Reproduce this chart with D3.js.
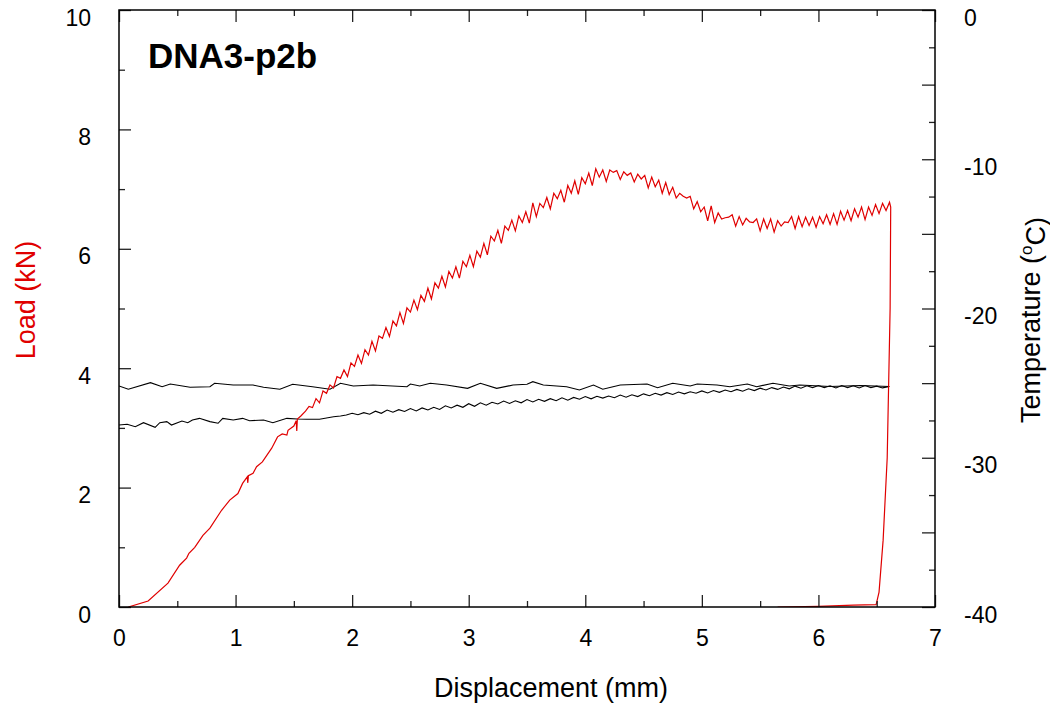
<!DOCTYPE html>
<html>
<head>
<meta charset="utf-8">
<script src="https://cdn.jsdelivr.net/npm/d3@7"></script>
<style>
  body { margin: 0; background: #fff; }
  svg text { font-family: "Liberation Sans", Arial, sans-serif; }
</style>
</head>
<body>
<div id="chart"></div>
<script>
// tick values
const xMajor = [0, 1, 2, 3, 4, 5, 6, 7];
const xMinor = [0.5, 1.5, 2.5, 3.5, 4.5, 5.5, 6.5];
const loadMajor = [0, 2, 4, 6, 8, 10];
const loadMinor = [1, 3, 5, 7, 9];
const tempMajor = [0, -5, -10, -15, -20, -25, -30, -35, -40];
const tempMinor = [-2.5, -7.5, -12.5, -17.5, -22.5, -27.5, -32.5, -37.5];

const title = "DNA3-p2b";

// load (kN) vs displacement (mm)
const loadCurve = [
  [0.08, 0], [0.25, 0.1], [0.42, 0.4], [0.52, 0.7], [0.58, 0.82], [0.60, 0.9], [0.65, 1.0],
  [0.72, 1.2], [0.78, 1.32], [0.88, 1.62], [0.95, 1.79], [1.02, 1.9], [1.06, 2.07], [1.10, 2.18],
  [1.105, 2.08], [1.11, 2.2], [1.15, 2.24], [1.18, 2.35], [1.23, 2.43], [1.31, 2.66], [1.36, 2.85],
  [1.40, 2.90], [1.44, 2.88], [1.45, 2.96], [1.50, 3.03], [1.52, 3.12], [1.525, 2.95], [1.53, 3.15],
  [1.56, 3.2],
  [1.60, 3.28], [1.63, 3.36], [1.66, 3.34], [1.69, 3.49], [1.72, 3.42], [1.75, 3.62], [1.78, 3.58],
  [1.81, 3.72], [1.84, 3.67], [1.87, 3.86], [1.90, 3.83], [1.93, 3.97], [1.96, 3.86], [1.99, 4.09],
  [2.02, 4.03], [2.05, 4.22], [2.08, 4.08], [2.11, 4.31], [2.14, 4.22], [2.17, 4.45], [2.20, 4.29],
  [2.23, 4.54], [2.26, 4.50], [2.29, 4.68], [2.32, 4.53], [2.35, 4.79], [2.38, 4.71], [2.41, 4.93],
  [2.44, 4.75], [2.47, 5.01], [2.50, 4.94], [2.53, 5.14], [2.56, 4.98], [2.59, 5.22], [2.62, 5.12],
  [2.65, 5.34], [2.68, 5.16], [2.71, 5.43], [2.74, 5.34], [2.77, 5.54], [2.80, 5.36], [2.83, 5.62],
  [2.86, 5.51], [2.89, 5.70], [2.92, 5.51], [2.95, 5.79], [2.98, 5.70], [3.01, 5.89], [3.04, 5.70],
  [3.07, 5.96], [3.10, 5.86], [3.13, 6.09], [3.16, 5.90], [3.19, 6.21], [3.22, 6.13], [3.25, 6.31],
  [3.28, 6.09], [3.31, 6.38], [3.34, 6.31], [3.37, 6.48], [3.40, 6.30], [3.43, 6.55], [3.46, 6.44],
  [3.49, 6.62], [3.52, 6.43], [3.55, 6.77], [3.58, 6.54], [3.61, 6.76], [3.64, 6.69], [3.67, 6.86],
  [3.70, 6.67], [3.73, 6.93], [3.76, 6.84], [3.79, 6.98], [3.82, 6.78], [3.85, 7.06], [3.88, 6.93],
  [3.91, 7.14], [3.94, 6.91], [3.97, 7.19], [4.00, 7.09], [4.03, 7.27], [4.06, 7.06], [4.09, 7.34],
  [4.12, 7.20], [4.15, 7.32], [4.18, 7.13], [4.21, 7.32], [4.24, 7.28], [4.27, 7.31], [4.30, 7.16],
  [4.33, 7.29], [4.36, 7.23], [4.39, 7.27], [4.42, 7.12], [4.45, 7.25], [4.48, 7.17], [4.51, 7.23],
  [4.54, 7.02], [4.57, 7.20], [4.60, 7.04], [4.63, 7.15], [4.66, 6.93], [4.69, 7.11], [4.72, 6.91],
  [4.75, 7.03], [4.78, 6.85], [4.81, 6.93], [4.84, 6.88], [4.87, 6.85], [4.90, 6.88], [4.93, 6.67],
  [4.96, 6.79], [4.99, 6.62], [5.02, 6.70], [5.05, 6.47], [5.08, 6.72], [5.11, 6.44], [5.14, 6.60],
  [5.17, 6.50], [5.20, 6.52], [5.23, 6.53], [5.26, 6.57], [5.29, 6.38], [5.32, 6.54], [5.35, 6.40],
  [5.38, 6.51], [5.41, 6.45], [5.44, 6.44], [5.47, 6.50], [5.50, 6.30], [5.53, 6.50], [5.56, 6.34],
  [5.59, 6.50], [5.62, 6.28], [5.65, 6.47], [5.68, 6.38], [5.71, 6.45], [5.74, 6.44], [5.77, 6.54],
  [5.80, 6.34], [5.83, 6.54], [5.86, 6.37], [5.89, 6.53], [5.92, 6.39], [5.95, 6.53], [5.98, 6.36],
  [6.01, 6.54], [6.04, 6.42], [6.07, 6.57], [6.10, 6.41], [6.13, 6.59], [6.16, 6.41], [6.19, 6.63],
  [6.22, 6.48], [6.25, 6.64], [6.28, 6.47], [6.31, 6.67], [6.34, 6.53], [6.37, 6.70], [6.40, 6.49],
  [6.43, 6.70], [6.46, 6.56], [6.49, 6.74], [6.52, 6.59], [6.55, 6.76], [6.58, 6.64], [6.61, 6.78],
  [6.62, 6.70],
  // unloading
  [6.615, 5.0], [6.59, 2.5], [6.555, 1.12], [6.52, 0.25], [6.495, 0.04], [6.3, 0.03], [6.0, 0.01],
  [5.65, 0.0]
];

// temperature (°C) vs displacement (mm), two thermocouples
const tempUpper = [
  [0.00, -25.19], [0.08, -25.41], [0.27, -24.97], [0.37, -25.24], [0.44, -25.06], [0.61, -25.28],
  [0.78, -25.24], [0.82, -25.01], [0.98, -25.13], [1.15, -25.13], [1.24, -25.28], [1.38, -25.41],
  [1.49, -25.08], [1.66, -25.24], [1.81, -25.41], [1.90, -25.01], [2.01, -25.19], [2.18, -25.13],
  [2.47, -25.24], [2.50, -25.06], [2.58, -25.19], [2.67, -25.01], [2.81, -25.13], [2.99, -25.35],
  [3.10, -25.01], [3.24, -25.35], [3.38, -25.13], [3.50, -25.08], [3.55, -24.90], [3.64, -25.13],
  [3.84, -25.24], [3.95, -25.46], [4.07, -25.13], [4.15, -25.41], [4.30, -25.13], [4.53, -25.06],
  [4.62, -25.31], [4.75, -25.01], [4.90, -25.19], [4.96, -25.06], [5.13, -25.13], [5.24, -25.24],
  [5.39, -25.06], [5.47, -25.24], [5.61, -25.01], [5.75, -25.19], [5.84, -25.13], [6.10, -25.23],
  [6.36, -25.16], [6.61, -25.23]
];

const tempLower = [
  [0.00, -27.81], [0.07, -27.76], [0.14, -27.92], [0.21, -27.65], [0.31, -27.96], [0.35, -27.65],
  [0.41, -27.58], [0.45, -27.81], [0.54, -27.54], [0.59, -27.65], [0.63, -27.47], [0.69, -27.36],
  [0.78, -27.58], [0.85, -27.69], [0.89, -27.36], [0.98, -27.47], [1.06, -27.36], [1.12, -27.52],
  [1.24, -27.47], [1.32, -27.65], [1.44, -27.36], [1.53, -27.40], [1.61, -27.42], [1.72, -27.42],
  [1.84, -27.25], [1.90, -27.20],
  [1.95, -27.14], [2.00, -27.02], [2.05, -27.12], [2.10, -26.98], [2.15, -27.08], [2.20, -26.88],
  [2.25, -27.02], [2.30, -26.80], [2.35, -26.95], [2.40, -26.78], [2.45, -26.90], [2.50, -26.70],
  [2.55, -26.86], [2.60, -26.66], [2.65, -26.80], [2.70, -26.62], [2.75, -26.76], [2.80, -26.52],
  [2.85, -26.66], [2.90, -26.48], [2.95, -26.62], [3.00, -26.38], [3.05, -26.55], [3.10, -26.32],
  [3.15, -26.48], [3.20, -26.28], [3.25, -26.40], [3.30, -26.20], [3.35, -26.36], [3.40, -26.18],
  [3.45, -26.32], [3.50, -26.10], [3.55, -26.26], [3.60, -26.08], [3.65, -26.22], [3.70, -26.04],
  [3.75, -26.18], [3.80, -25.98], [3.85, -26.14], [3.90, -25.96], [3.95, -26.08], [4.00, -25.90],
  [4.05, -26.05], [4.10, -25.88], [4.15, -26.00], [4.20, -25.86], [4.25, -25.98], [4.30, -25.80],
  [4.35, -25.94], [4.40, -25.78], [4.45, -25.90], [4.50, -25.72], [4.55, -25.84], [4.60, -25.68],
  [4.65, -25.80], [4.70, -25.64], [4.75, -25.76], [4.80, -25.60], [4.85, -25.72], [4.90, -25.58],
  [4.95, -25.68], [5.00, -25.52], [5.05, -25.66], [5.10, -25.50], [5.15, -25.62], [5.20, -25.46],
  [5.25, -25.58], [5.30, -25.42], [5.35, -25.54], [5.40, -25.38], [5.45, -25.50], [5.50, -25.34],
  [5.55, -25.46], [5.60, -25.30], [5.65, -25.42], [5.70, -25.26], [5.75, -25.38], [5.80, -25.20],
  [5.85, -25.34], [5.90, -25.18], [5.95, -25.30], [6.00, -25.16], [6.05, -25.30], [6.10, -25.18],
  [6.15, -25.32], [6.20, -25.16], [6.25, -25.30], [6.30, -25.18], [6.35, -25.32], [6.40, -25.16],
  [6.45, -25.30], [6.50, -25.20], [6.55, -25.32], [6.60, -25.24]
];

const width = 1050;
const height = 708;
const margin = { top: 10, right: 115, bottom: 101, left: 119 };
const innerW = width - margin.left - margin.right;
const innerH = height - margin.top - margin.bottom;
const red = "#e00000";

const x = d3.scaleLinear().domain([0, 7]).range([0, innerW]);
const yLoad = d3.scaleLinear().domain([0, 10]).range([innerH, 0]);
const yTemp = d3.scaleLinear().domain([-40, 0]).range([innerH, 0]);

const svg = d3.select('#chart').append('svg')
  .attr('width', width)
  .attr('height', height);

const g = svg.append('g')
  .attr('transform', `translate(${margin.left},${margin.top})`);

g.append('clipPath').attr('id', 'plot-clip')
  .append('rect').attr('width', innerW).attr('height', innerH);

// curves
const plot = g.append('g').attr('clip-path', 'url(#plot-clip)');

const tempLine = d3.line().x(d => x(d[0])).y(d => yTemp(d[1]));
[tempUpper, tempLower].forEach(series => {
  plot.append('path')
    .attr('d', tempLine(series))
    .attr('fill', 'none')
    .attr('stroke', '#000')
    .attr('stroke-width', 1.1);
});

plot.append('path')
  .attr('d', d3.line().x(d => x(d[0])).y(d => yLoad(d[1]))(loadCurve))
  .attr('fill', 'none')
  .attr('stroke', red)
  .attr('stroke-width', 1.2);

// axes: major ticks with labels, minor ticks without
function styleAxis(sel) {
  sel.select('.domain').remove();
  sel.selectAll('.tick line').attr('stroke', '#222').attr('stroke-width', 1.3);
  sel.selectAll('text')
    .attr('fill', '#000')
    .style('font-size', '23px');
}

g.append('g')
  .attr('transform', `translate(0,${innerH})`)
  .call(d3.axisBottom(x).tickValues(xMajor).tickSize(-12).tickPadding(23).tickFormat(d3.format('d')))
  .call(styleAxis);
g.append('g')
  .attr('transform', `translate(0,${innerH})`)
  .call(d3.axisBottom(x).tickValues(xMinor).tickSize(-6).tickFormat(''))
  .call(styleAxis);
g.append('g')
  .call(d3.axisTop(x).tickValues(xMajor).tickSize(-12).tickFormat(''))
  .call(styleAxis);
g.append('g')
  .call(d3.axisTop(x).tickValues(xMinor).tickSize(-6).tickFormat(''))
  .call(styleAxis);

g.append('g')
  .call(d3.axisLeft(yLoad).tickValues(loadMajor).tickSize(-12).tickPadding(28).tickFormat(d3.format('d')))
  .call(styleAxis)
  .selectAll('text').attr('dy', '0.66em');
g.append('g')
  .call(d3.axisLeft(yLoad).tickValues(loadMinor).tickSize(-6).tickFormat(''))
  .call(styleAxis);

g.append('g')
  .attr('transform', `translate(${innerW},0)`)
  .call(d3.axisRight(yTemp).tickValues(tempMajor).tickSize(-13).tickPadding(29)
    .tickFormat(d => d % 10 === 0 ? String(d) : ''))
  .call(styleAxis)
  .selectAll('text').attr('dy', '0.66em');
g.append('g')
  .attr('transform', `translate(${innerW},0)`)
  .call(d3.axisRight(yTemp).tickValues(tempMinor).tickSize(-6).tickFormat(''))
  .call(styleAxis);

// frame
g.append('rect')
  .attr('width', innerW)
  .attr('height', innerH)
  .attr('fill', 'none')
  .attr('stroke', '#000')
  .attr('stroke-width', 1.5);

// titles
svg.append('text')
  .attr('x', 148)
  .attr('y', 68)
  .style('font-size', '35px')
  .style('font-weight', 'bold')
  .text(title);

svg.append('text')
  .attr('x', 551)
  .attr('y', 697)
  .attr('text-anchor', 'middle')
  .style('font-size', '27px')
  .text('Displacement (mm)');

svg.append('text')
  .attr('transform', 'translate(35,300) rotate(-90)')
  .attr('text-anchor', 'middle')
  .attr('fill', red)
  .style('font-size', '27px')
  .text('Load (kN)');

const tTitle = svg.append('text')
  .attr('transform', 'translate(1040,320) rotate(-90)')
  .attr('text-anchor', 'middle')
  .style('font-size', '27px');
tTitle.append('tspan').text('Temperature (');
tTitle.append('tspan').attr('dy', '-0.45em').style('font-size', '17px').text('o');
tTitle.append('tspan').attr('dy', '0.45em').text('C)');
</script>
</body>
</html>
